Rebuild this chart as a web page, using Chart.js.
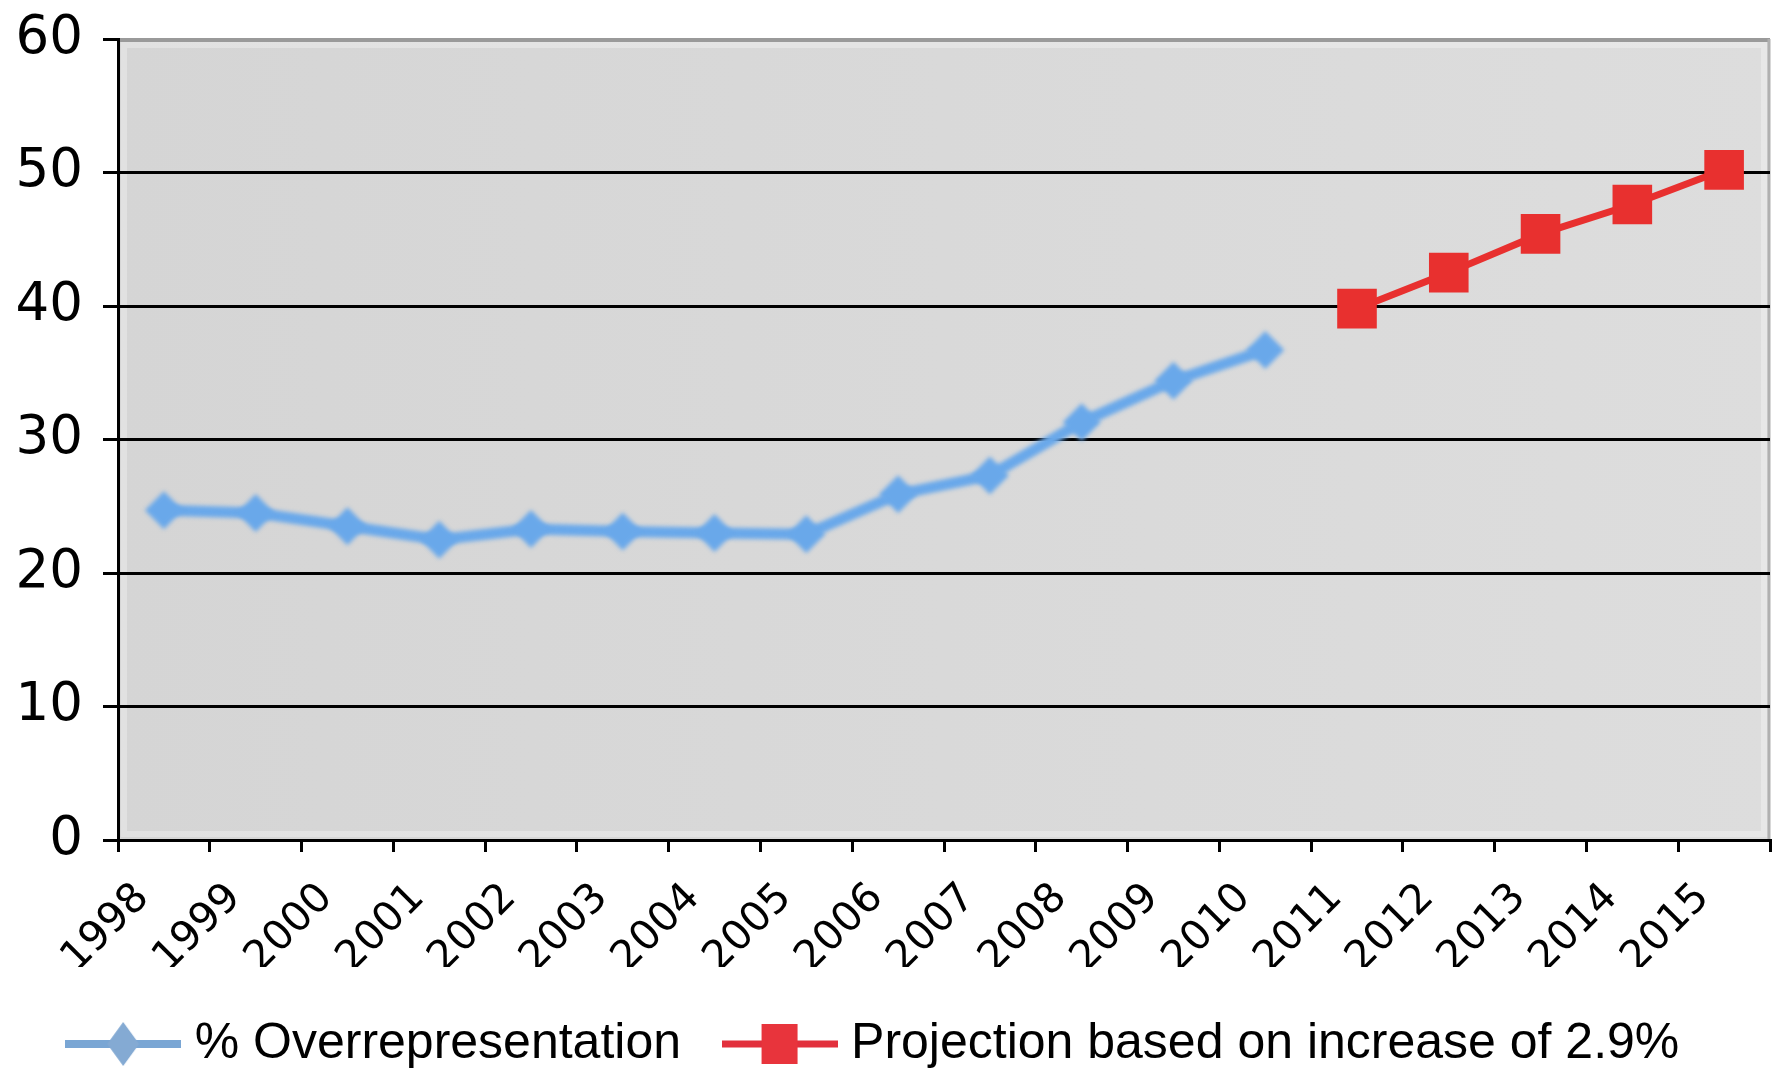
<!DOCTYPE html>
<html>
<head>
<meta charset="utf-8">
<title>% Overrepresentation 1998–2015</title>
<script src="https://cdn.jsdelivr.net/npm/chart.js@4/dist/chart.umd.min.js"></script>
<style>
  html, body { margin: 0; padding: 0; background: #ffffff; }
  #wrap { width: 1775px; height: 1071px; }
</style>
</head>
<body>
<div id="wrap"><canvas id="chart" width="1775" height="1071"></canvas></div>
<script>
// Years on the category axis
const years = ['1998', '1999', '2000', '2001', '2002', '2003', '2004', '2005', '2006',
               '2007', '2008', '2009', '2010', '2011', '2012', '2013', '2014', '2015'];

// Observed overrepresentation (%), 1998–2010
const overrepresentation = [24.7, 24.5, 23.5, 22.5, 23.3, 23.1, 23.0, 22.9, 25.9,
                            27.3, 31.3, 34.4, 36.7, null, null, null, null, null];

// Projected values, 2011–2015
const projection = [null, null, null, null, null, null, null, null, null,
                    null, null, null, null, 39.8, 42.5, 45.4, 47.6, 50.2];

// Value axis
const yMin = 0;
const yMax = 60;
const yStep = 10;

const seriesNames = ['% Overrepresentation', 'Projection based on increase of 2.9%'];

const BLUE = '#69a8ea';
const RED = '#e8302f';

// Legend symbols: a line segment with the series marker in its middle
function legendSymbol(kind) {
  const c = document.createElement('canvas');
  c.width = 116;
  c.height = 46;
  const g = c.getContext('2d');
  const cy = 23;
  if (kind === 'diamond') {
    g.strokeStyle = '#7aa6d4';
    g.lineWidth = 8;
    g.beginPath(); g.moveTo(0, cy); g.lineTo(116, cy); g.stroke();
    g.fillStyle = '#84aad3';
    g.beginPath();
    g.moveTo(58, cy - 22); g.lineTo(74, cy); g.lineTo(58, cy + 22); g.lineTo(42, cy);
    g.closePath(); g.fill();
  } else {
    g.strokeStyle = '#e2303c';
    g.lineWidth = 7;
    g.beginPath(); g.moveTo(0, cy); g.lineTo(116, cy); g.stroke();
    g.fillStyle = '#e8343c';
    g.fillRect(58 - 18, cy - 20, 36, 40);
  }
  return c;
}
const legendSymbols = [legendSymbol('diamond'), legendSymbol('square')];

// Grey plot background with a darker top edge and light right edge
const plotBackground = {
  id: 'plotBackground',
  beforeDraw(chart) {
    const { ctx, chartArea: a } = chart;
    ctx.save();
    const grad = ctx.createLinearGradient(a.left, 0, a.right, 0);
    grad.addColorStop(0, '#d5d5d5');
    grad.addColorStop(1, '#dddddd');
    ctx.fillStyle = grad;
    ctx.fillRect(a.left, a.top, a.right - a.left, a.bottom - a.top);
    ctx.strokeStyle = 'rgba(255,255,255,0.3)';
    ctx.lineWidth = 6;
    ctx.strokeRect(a.left + 6, a.top + 6, a.right - a.left - 12, a.bottom - a.top - 12);
    ctx.strokeStyle = '#9a9a9a';
    ctx.lineWidth = 4;
    ctx.beginPath(); ctx.moveTo(a.left, a.top + 1); ctx.lineTo(a.right, a.top + 1); ctx.stroke();
    ctx.strokeStyle = '#b0b0b0';
    ctx.lineWidth = 3;
    ctx.beginPath(); ctx.moveTo(a.right - 1, a.top); ctx.lineTo(a.right - 1, a.bottom); ctx.stroke();
    ctx.restore();
  }
};

// The observed series is drawn slightly soft
const softSeries = {
  id: 'softSeries',
  beforeDatasetDraw(chart, args) {
    if (args.index === 0) {
      chart.ctx.save();
      chart.ctx.filter = 'blur(2px)';
    }
  },
  afterDatasetDraw(chart, args) {
    if (args.index === 0) {
      chart.ctx.restore();
    }
  }
};

// Nudge the legend row slightly to the left of the canvas centre
const legendNudge = {
  id: 'legendNudge',
  afterLayout(chart) {
    if (chart.legend) {
      chart.legend.left -= 7;
      chart.legend.right -= 7;
    }
  }
};

new Chart(document.getElementById('chart'), {
  type: 'line',
  data: {
    labels: years,
    datasets: [
      {
        label: seriesNames[0],
        data: overrepresentation,
        borderColor: BLUE,
        backgroundColor: BLUE,
        borderWidth: 11,
        pointStyle: 'rectRot',
        pointRadius: 19,
        pointBorderWidth: 0,
        pointBackgroundColor: BLUE,
        spanGaps: false,
        tension: 0
      },
      {
        label: seriesNames[1],
        data: projection,
        borderColor: RED,
        backgroundColor: RED,
        borderWidth: 7,
        pointStyle: 'rect',
        pointRadius: 28,
        pointBorderWidth: 0,
        pointBackgroundColor: RED,
        spanGaps: false,
        tension: 0
      }
    ]
  },
  options: {
    responsive: false,
    animation: false,
    devicePixelRatio: 1,
    layout: { autoPadding: false, padding: { top: 39, right: 5, left: 0, bottom: 0 } },
    plugins: {
      tooltip: { enabled: false },
      legend: {
        position: 'bottom',
        maxHeight: 104,
        labels: {
          usePointStyle: true,
          pointStyleWidth: 93,
          padding: 52,
          color: '#000000',
          font: { family: '"Liberation Sans", Arial, sans-serif', size: 50 },
          generateLabels(chart) {
            const items = Chart.defaults.plugins.legend.labels.generateLabels(chart);
            items.forEach((item, i) => { item.pointStyle = legendSymbols[i]; });
            return items;
          }
        }
      }
    },
    scales: {
      x: {
        type: 'category',
        offset: true,
        afterFit(scale) {
          scale.height = 127;
          scale.paddingLeft = 0;
          scale.paddingRight = 0;
        },
        grid: {
          offset: true,
          drawOnChartArea: false,
          drawTicks: true,
          tickLength: 12,
          tickColor: '#000000',
          lineWidth: 3
        },
        border: { display: true, color: '#000000', width: 3 },
        ticks: {
          autoSkip: false,
          minRotation: 45,
          maxRotation: 45,
          padding: 22,
          labelOffset: -21,
          color: '#000000',
          font: { family: '"DejaVu Sans", Verdana, sans-serif', size: 41 }
        }
      },
      y: {
        min: yMin,
        max: yMax,
        afterFit(scale) {
          scale.width = 118;
          scale.paddingTop = 0;
          scale.paddingBottom = 0;
        },
        grid: {
          drawTicks: true,
          tickLength: 15,
          tickColor: '#000000',
          lineWidth: 3,
          color(ctx) {
            return ctx.tick && ctx.tick.value === yMax ? 'rgba(0,0,0,0)' : '#000000';
          }
        },
        border: { display: true, color: '#000000', width: 3 },
        ticks: {
          stepSize: yStep,
          padding: 20,
          color: '#000000',
          font: { family: '"DejaVu Sans", Verdana, sans-serif', size: 53 }
        }
      }
    }
  },
  plugins: [plotBackground, softSeries, legendNudge]
});
</script>
</body>
</html>
